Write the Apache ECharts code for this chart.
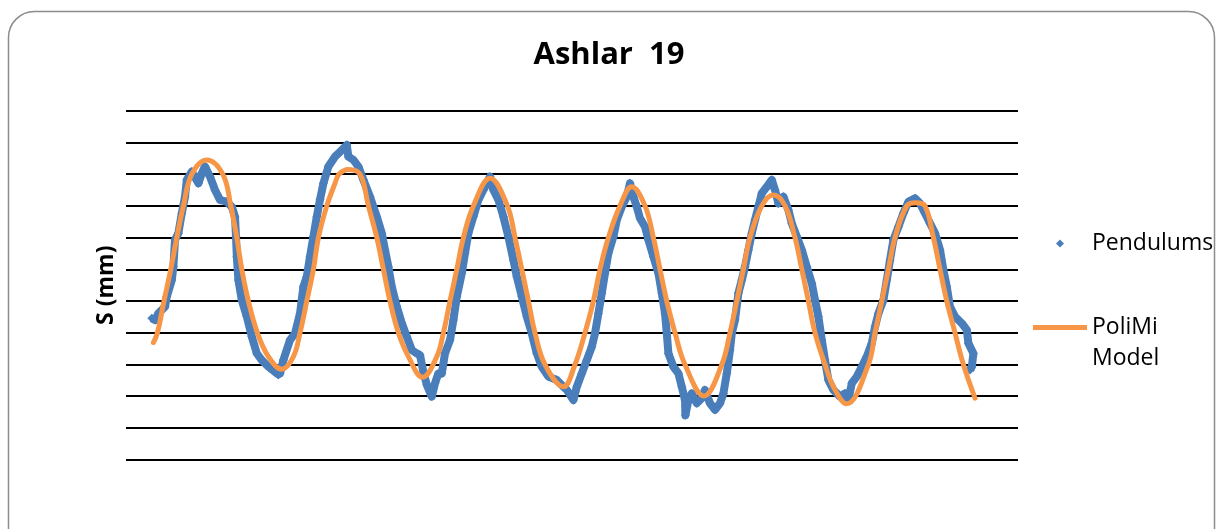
<!DOCTYPE html>
<html>
<head>
<meta charset="utf-8">
<script src="https://cdn.jsdelivr.net/npm/echarts@6/dist/echarts.min.js"></script>
<style>
  html, body { margin: 0; padding: 0; background: #fff; }
  #chart { width: 1218px; height: 529px; }
</style>
</head>
<body>
<div id="chart"></div>
<script>
// ---- Data (time in s, displacement S in mm) ----
const chartTitle = 'Ashlar  19';
const yAxisName = 'S (mm)';
const seriesNames = ['Pendulums', 'PoliMi Model'];

const pendulums = [
  [1.29,-1.54],[1.45,-1.60],[1.62,-1.39],[1.95,-1.18],[2.04,-0.86],[2.29,-0.34],[2.37,0.08],[2.45,0.93],[2.62,1.14],[2.79,1.77],[2.95,2.29],[3.04,2.82],[3.29,3.08],[3.62,2.71],[3.79,3.03],[3.95,3.24],[4.2,2.92],[4.45,2.50],[4.7,2.19],[5.04,2.13],[5.29,1.97],[5.45,1.66],[5.5,1.03],[5.54,0.40],[5.62,-0.34],[5.79,-0.97],[6.04,-1.49],[6.29,-2.12],[6.54,-2.65],[6.79,-2.86],[7.12,-3.07],[7.54,-3.28],[7.62,-3.33],
  [7.7,-3.28],[7.87,-2.86],[8.2,-2.23],[8.45,-2.02],[8.7,-1.39],[8.87,-0.55],[9.04,-0.23],[9.2,0.40],[9.37,1.03],[9.54,1.66],[9.7,2.19],[9.87,2.71],[10.12,3.24],[10.45,3.55],[10.79,3.76],[11.04,3.92],[11.12,3.55],[11.37,3.45],[11.62,3.24],[11.87,2.82],[12.2,2.29],[12.54,1.66],[12.79,1.14],[12.95,0.61],[13.12,0.08],[13.29,-0.55],[13.54,-1.18],[13.79,-1.70],[14.04,-2.12],[14.29,-2.54],[14.54,-2.65],[14.7,-2.70],
  [14.87,-3.24],[15.04,-3.64],[15.29,-4.01],[15.45,-3.59],[15.62,-3.28],[15.79,-3.28],[15.95,-2.65],[16.2,-2.23],[16.37,-1.60],[16.54,-0.86],[16.79,-0.12],[16.95,0.51],[17.12,1.14],[17.37,1.66],[17.62,2.19],[17.87,2.50],[18.04,2.71],[18.2,2.92],[18.37,2.50],[18.62,2.19],[18.87,1.66],[19.12,1.03],[19.37,0.29],[19.54,-0.23],[19.79,-0.86],[20.04,-1.49],[20.29,-2.02],[20.54,-2.65],[20.79,-3.07],[21.12,-3.38],[21.54,-3.49],[21.87,-3.70],
  [22.04,-3.80],[22.37,-4.12],[22.54,-3.70],[22.79,-3.28],[23.04,-2.86],[23.29,-2.44],[23.45,-2.02],[23.62,-1.39],[23.79,-0.75],[23.95,-0.12],[24.12,0.51],[24.37,1.03],[24.54,1.56],[24.79,1.97],[25.04,2.29],[25.2,2.71],[25.37,2.29],[25.54,1.97],[25.7,1.61],[25.95,1.34],[26.12,0.93],[26.37,0.40],[26.62,-0.12],[26.79,-0.75],[26.95,-1.39],[27.04,-2.02],[27.12,-2.65],[27.37,-3.07],[27.62,-3.28],[27.79,-3.70],[27.95,-4.12],[27.97,-4.60],[28.12,-4.12],[28.29,-3.91],[28.54,-4.22],[28.79,-4.06],
  [28.95,-3.80],[29.2,-4.22],[29.45,-4.43],[29.7,-4.22],[29.87,-3.91],[30.04,-3.28],[30.2,-2.54],[30.29,-2.02],[30.45,-1.60],[30.62,-0.75],[30.79,-0.34],[30.95,0.08],[31.12,0.61],[31.29,1.14],[31.45,1.56],[31.62,1.97],[31.79,2.40],[32.04,2.60],[32.29,2.82],[32.45,2.50],[32.62,2.08],[32.87,2.29],[33.12,1.87],[33.29,1.45],[33.54,1.03],[33.79,0.61],[34.04,0.08],[34.29,-0.44],[34.45,-0.97],[34.62,-1.49],[34.79,-2.23],[34.95,-2.86],[35.12,-3.49],[35.37,-3.80],[35.7,-4.01],[35.95,-3.91],
  [36.12,-4.12],[36.29,-3.59],[36.54,-3.38],[36.79,-3.07],[37.04,-2.75],[37.29,-2.33],[37.45,-1.81],[37.62,-1.39],[37.87,-0.97],[38.04,-0.34],[38.2,0.29],[38.37,0.93],[38.62,1.34],[38.87,1.77],[39.12,2.13],[39.45,2.24],[39.7,2.08],[39.95,1.77],[40.2,1.45],[40.45,1.14],[40.7,0.61],[40.87,-0.02],[41.04,-0.55],[41.2,-1.18],[41.45,-1.49],[41.79,-1.70],[42.04,-1.91],[42.12,-2.33],[42.37,-2.65],[42.29,-3.07],[42.2,-3.17]
];

const polimiModel = [
  [1.37,-2.31],[1.57,-2],[1.9,-1],[2.24,0],[2.54,1],[2.87,2],[3.29,3],[4.04,3.45],[4.84,3],[5.24,2],[5.54,1],[5.79,0],[6.12,-1],[6.57,-2],[7.12,-2.75],[7.79,-3.15],
  [8.37,-2.75],[8.7,-2],[9.04,-1],[9.37,0],[9.62,1],[10.04,2],[10.45,2.71],[10.65,3],[11.12,3.15],[11.7,3],[12.12,2],[12.54,1],[12.87,0],[13.2,-1],[13.62,-2],[14.12,-2.75],[14.83,-3.40],
  [15.54,-2.75],[15.87,-2],[16.2,-1],[16.54,0],[16.87,1],[17.37,2],[18.2,2.87],[19.07,2],[19.45,1],[19.79,0],[20.12,-1],[20.45,-2],[20.95,-3],[21.87,-3.70],
  [22.45,-3],[22.95,-2],[23.37,-1],[23.7,0],[24.12,1],[24.7,2],[25.29,2.60],[25.95,2],[26.37,1],[26.7,0],[27.04,-1],[27.45,-2],[27.95,-3],[28.9,-3.99],
  [29.79,-3],[30.2,-2],[30.54,-1],[30.87,0],[31.2,1],[31.79,2],[32.37,2.34],[32.95,2],[33.45,1],[33.79,0],[34.12,-1],[34.45,-2],[34.95,-3],[35.37,-3.70],[36.03,-4.24],
  [37.12,-3],[37.45,-2],[37.79,-1],[38.12,0],[38.45,1],[39.04,2],[39.5,2.10],[39.95,2],[40.37,1],[40.7,0],[41.04,-1],[41.45,-2],[41.87,-3],[42.45,-4.06]
];

const xRange = [0, 44.6];
const yRange = [-6, 5];
const yStep = 1;

// ---- Chart ----
const chart = echarts.init(document.getElementById('chart'), null, { renderer: 'canvas' });
const BLUE = '#4A7EBB';
const ORANGE = '#F79646';
const FONT = 'Open Sans';

chart.setOption({
  backgroundColor: '#ffffff',
  animation: false,
  title: {
    text: chartTitle,
    left: 'center',
    top: 35,
    textStyle: { fontFamily: FONT, fontWeight: 'bold', fontSize: 31, color: '#000' }
  },
  graphic: [{
    type: 'rect',
    silent: true,
    shape: { x: 8.5, y: 11.5, width: 1206, height: 560, r: 26 },
    style: { fill: 'none', stroke: '#8c8c8c', lineWidth: 1.5 },
    z: -1
  }],
  legend: [{
    data: [{ name: seriesNames[0], icon: 'diamond' }],
    orient: 'vertical',
    left: 1051,
    top: 227,
    itemWidth: 8,
    itemHeight: 8,
    textStyle: { fontFamily: FONT, fontSize: 23, color: '#000', padding: [0, 0, 0, 23] }
  }, {
    data: [{ name: seriesNames[1], icon: 'rect' }],
    orient: 'vertical',
    left: 1028,
    top: 276,
    itemWidth: 54,
    itemHeight: 5,
    formatter: function () { return '\nPoliMi\nModel'; },
    textStyle: { fontFamily: FONT, fontSize: 23, color: '#000', lineHeight: 31 }
  }],
  grid: { left: 126, right: 200, top: 110.7, bottom: 69.3 },
  xAxis: {
    type: 'value',
    min: xRange[0],
    max: xRange[1],
    axisLine: { show: false },
    axisTick: { show: false },
    axisLabel: { show: false },
    splitLine: { show: false }
  },
  yAxis: {
    type: 'value',
    min: yRange[0],
    max: yRange[1],
    interval: yStep,
    name: yAxisName,
    nameLocation: 'middle',
    nameGap: 8,
    nameTextStyle: { fontFamily: FONT, fontWeight: 'bold', fontSize: 23, color: '#000' },
    axisLine: { show: false },
    axisTick: { show: false },
    axisLabel: { show: false },
    splitLine: { show: true, lineStyle: { color: '#000', width: 2 } }
  },
  series: [{
    name: seriesNames[0],
    type: 'line',
    data: pendulums,
    symbol: 'diamond',
    symbolSize: 9,
    showSymbol: true,
    showAllSymbol: true,
    itemStyle: { color: BLUE },
    lineStyle: { color: BLUE, width: 8, join: 'round' },
    z: 2
  }, {
    name: seriesNames[1],
    type: 'line',
    data: polimiModel,
    smooth: 0.4,
    symbol: 'none',
    itemStyle: { color: ORANGE },
    lineStyle: { color: ORANGE, width: 5, cap: 'round' },
    z: 3
  }]
});
</script>
</body>
</html>
